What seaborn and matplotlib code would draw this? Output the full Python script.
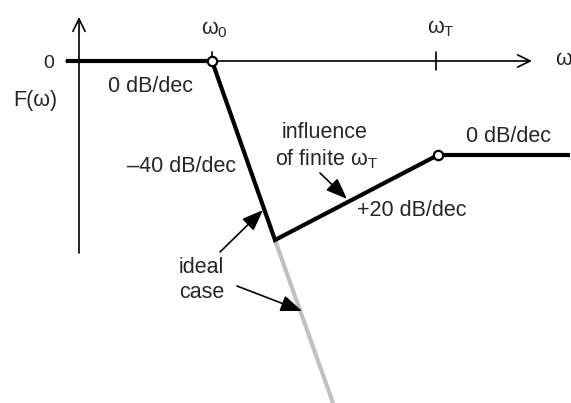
import matplotlib
matplotlib.use("Agg")
import matplotlib.pyplot as plt
import numpy as np
import pandas as pd
import seaborn as sns

# ---- data (schematic units: x = log frequency, y = gain) ----
log_w = [-13, 133, 196, 359, 491]
gain = [0, 0, -179, -94, -94]
ideal_w = [196, 254]
ideal_gain = [-179, -342]
corner_w = [133, 359]
corner_gain = [0, -94]
slope_labels = ["0 dB/dec", "\u201340 dB/dec", "+20 dB/dec", "0 dB/dec"]

sns.set_theme(style="white")
plt.rcParams["font.family"] = ["Liberation Sans", "DejaVu Sans"]
plt.rcParams["mathtext.fontset"] = "custom"
plt.rcParams["mathtext.rm"] = "Liberation Sans"
plt.rcParams["mathtext.it"] = "Liberation Sans"
plt.rcParams["mathtext.bf"] = "Liberation Sans:bold"

fig = plt.figure(figsize=(5.71, 4.03), dpi=100)
ax = fig.add_axes([0, 0, 1, 1])
ax.set_xlim(-79, 492)
ax.set_ylim(-342, 61)
ax.axis("off")

FS = 15.5

# axes with arrows
ax.annotate("", xy=(453, 0), xytext=(-13, 0),
            arrowprops=dict(arrowstyle="->,head_length=0.45,head_width=0.22",
                            lw=1.2, color="black", mutation_scale=20,
                            shrinkA=0, shrinkB=0))
ax.annotate("", xy=(0, 44), xytext=(0, -192),
            arrowprops=dict(arrowstyle="->,head_length=0.45,head_width=0.22",
                            lw=1.2, color="black", mutation_scale=20,
                            shrinkA=0, shrinkB=0))
# ticks
ax.plot([133, 133], [0, 9], color="black", lw=1.2)
ax.plot([357, 357], [-9, 9], color="black", lw=1.2)

# ideal case (gray)
ideal_df = pd.DataFrame({"w": ideal_w, "F": ideal_gain})
sns.lineplot(data=ideal_df, x="w", y="F", sort=False, ax=ax,
             color="#c0c0c0", lw=3.0, estimator=None)

# asymptotic response
resp_df = pd.DataFrame({"w": log_w, "F": gain})
sns.lineplot(data=resp_df, x="w", y="F", sort=False, ax=ax,
             color="black", lw=3.0, estimator=None)
ax.lines[-1].set_solid_joinstyle("miter")
ax.lines[-1].set_solid_capstyle("butt")

corner_df = pd.DataFrame({"w": corner_w, "F": corner_gain})
sns.scatterplot(data=corner_df, x="w", y="F", ax=ax, s=45,
                facecolor="white", edgecolor="black", linewidth=1.6, zorder=5)

ax.set_xlabel("")
ax.set_ylabel("")

# labels
ax.text(-30, -7, "0", fontsize=FS - 1.5, ha="center", va="baseline")
ax.text(-44, -45, "F(\u03c9)", fontsize=FS, ha="center", va="baseline")
ax.text(135, 27, r"$\omega_0$", fontsize=FS, ha="center", va="baseline")
ax.text(362, 28, r"$\omega_\mathrm{T}$", fontsize=FS, ha="center", va="baseline")
ax.text(484, -4, "\u03c9", fontsize=FS, ha="center", va="baseline")

ax.text(71, -31, slope_labels[0], fontsize=FS, ha="center", va="baseline")
ax.text(103, -111, slope_labels[1], fontsize=FS, ha="center", va="baseline")
ax.text(333, -155, slope_labels[2], fontsize=FS, ha="center", va="baseline")
ax.text(430, -81, slope_labels[3], fontsize=FS, ha="center", va="baseline")

ax.text(246, -77, "influence", fontsize=FS, ha="center", va="baseline")
ax.text(247, -104, r"of finite $\omega_\mathrm{T}$", fontsize=FS, ha="center", va="baseline")
ax.text(100, -212, "ideal", fontsize=FS, ha="left", va="baseline")
ax.text(100, -237, "case", fontsize=FS, ha="left", va="baseline")

# pointer arrows
ap = dict(arrowstyle="-|>,head_length=0.65,head_width=0.25", lw=1.2,
          color="black", mutation_scale=20, shrinkA=0, shrinkB=0)
ax.annotate("", xy=(268, -138), xytext=(241, -112), arrowprops=ap)
ax.annotate("", xy=(184, -149), xytext=(141, -191), arrowprops=ap)
ax.annotate("", xy=(223, -250), xytext=(158, -225), arrowprops=ap)

fig.savefig("out.png", dpi=100, facecolor="white")
